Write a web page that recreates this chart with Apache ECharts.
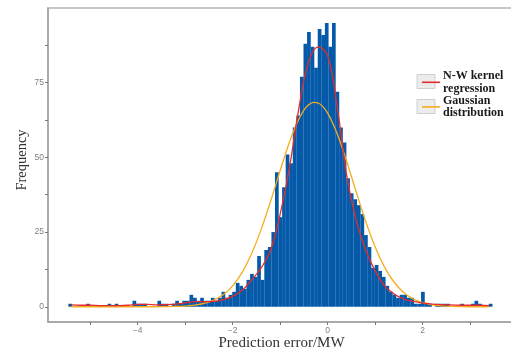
<!DOCTYPE html>
<html>
<head>
<meta charset="utf-8">
<script src="https://cdn.jsdelivr.net/npm/echarts@6/dist/echarts.min.js"></script>
<style>html,body{margin:0;padding:0;background:#fff;}#c{width:511px;height:354px;}</style>
</head>
<body>
<div id="c"></div>
<script>
// Histogram bins
const binStart = -5.42;
const binWidth = 0.075;
const counts = [1,0,0,0,0,1,0,0,0,0,0,1,0,1,0,0,0,0,2,1,1,1,0,0,0,2,1,1,0,1,
  2,1,2,2,4,3,2,3,2,2,3,2,3,5,3,4,5,8,7,6,9,11,10,17,9,19,20,25,45,30,
  40,51,48,60,64,77,88,92,87,80,93,91,95,87,95,72,60,55,43,38,36,34,31,24,20,13,14,12,10,7,
  5,4,3,4,4,3,3,1,1,5,1,1,0,1,1,1,1,0,0,0,1,0,0,1,2,1,0,0,1];
// N-W kernel regression curve
const nwX = [-5.4,-5.2,-5.0,-4.8,-4.6,-4.4,-4.2,-4.0,-3.8,-3.6,-3.4,-3.2,-3.0,-2.8,-2.6,-2.4,-2.2,-2.0,-1.8,-1.6,-1.4,-1.2,-1.0,-0.8,-0.6,-0.4,-0.2,0.0,0.2,0.4,0.6,0.8,1.0,1.2,1.4,1.6,1.8,2.0,2.2,2.4,2.6,2.8,3.0,3.2,3.4];
const nwY = [0.6,0.5,0.5,0.4,0.4,0.4,0.5,0.8,0.8,0.6,0.7,0.9,1.3,1.7,1.7,1.8,2.4,3.5,5.5,9,13,19,31,47,67,82,87,84,67,44,29,19,12,7,4.3,2.6,1.8,1.3,0.9,0.7,0.6,0.5,0.5,0.5,0.4];
// Gaussian distribution curve
const gX = [-5.4,-4.0,-3.4,-3.2,-3.0,-2.8,-2.6,-2.4,-2.2,-2.0,-1.8,-1.6,-1.4,-1.2,-1.0,-0.9,-0.8,-0.7,-0.6,-0.5,-0.4,-0.3,-0.2,-0.1,0.0,0.1,0.2,0.3,0.4,0.6,0.8,1.0,1.2,1.4,1.6,1.8,2.0,2.2,2.4,2.6,2.8,3.0,3.4];
const gY = [0,0,0.04,0.1,0.23,0.52,1.1,2.2,4.0,7.0,11.5,17.8,25.9,35.4,45.6,50.6,55.3,59.5,63.0,65.8,67.6,68.4,68.2,67.0,64.8,61.7,57.9,53.5,48.7,38.5,28.6,20.0,13.2,8.2,4.8,2.6,1.35,0.65,0.3,0.13,0.05,0,0];
const xTicks = [-5,-4,-3,-2,-1,0,1,2,3];
const xLabels = [-4,-2,0,2];
const yTicks = [0,12.5,25,37.5,50,62.5,75,87.5];
const yLabels = [0,25,50,75];
const seriesNames = ['N-W kernel\nregression', 'Gaussian\ndistribution'];

const barData = counts.map((c, i) => [+(binStart + i * binWidth).toFixed(3), c]);
const nwData = nwX.map((x, i) => [x, nwY[i]]);
const gData = gX.map((x, i) => [x, gY[i]]);

const chart = echarts.init(document.getElementById('c'), null, {renderer: 'canvas'});
const gray = '#a0a0a0';
const lab = {color: '#808080', fontSize: 8.5, fontFamily: 'Liberation Sans'};
chart.setOption({
  animation: false,
  backgroundColor: '#fff',
  grid: {left: 48, right: -4, top: 8, bottom: 32, outerBoundsMode: 'none', show: true, borderColor: '#b5b5b5', borderWidth: 1.5, backgroundColor: 'transparent'},
  xAxis: {
    type: 'value', min: -5.888, max: 3.944,
    name: 'Prediction error/MW', nameLocation: 'middle', nameGap: 14, nameMoveOverlap: false,
    nameTextStyle: {fontFamily: 'Liberation Serif', fontSize: 15, color: '#333'},
    axisLine: {show: true, onZero: false, lineStyle: {color: gray, width: 1.5}},
    axisTick: {show: true, customValues: xTicks, length: 3, lineStyle: {color: '#777'}},
    axisLabel: Object.assign({customValues: xLabels, margin: 4, formatter: v => (v < 0 ? '\u2212' : '') + Math.abs(v)}, lab),
    splitLine: {show: false}
  },
  yAxis: {
    type: 'value', min: -5.1, max: 100,
    name: 'Frequency', nameLocation: 'middle', nameGap: 18, nameMoveOverlap: false,
    nameTextStyle: {fontFamily: 'Liberation Serif', fontSize: 14.5, color: '#333', padding: [0, 0, 0, 10]},
    axisLine: {show: true, onZero: false, lineStyle: {color: gray, width: 1.5}},
    axisTick: {show: true, customValues: yTicks, length: 3, lineStyle: {color: '#777'}},
    axisLabel: Object.assign({customValues: yLabels, margin: 4}, lab),
    splitLine: {show: false}
  },
  legend: {
    orient: 'vertical', left: 417, top: 65, itemGap: 0,
    itemWidth: 18, itemHeight: 1.6, icon: 'rect',
    data: seriesNames,
    textStyle: {fontFamily: 'Liberation Serif', fontWeight: 'bold', fontSize: 12, color: '#1a1a1a', lineHeight: 12.3, padding: [0, 0, 0, -2]}
  },
  graphic: [
    {type: 'rect', shape: {x: 417, y: 74.5, width: 18, height: 14}, style: {fill: '#ececec', stroke: '#cfcfcf', lineWidth: 1}, z: 0},
    {type: 'rect', shape: {x: 417, y: 99.5, width: 18, height: 14}, style: {fill: '#ececec', stroke: '#cfcfcf', lineWidth: 1}, z: 0}
  ],
  series: [
    {type: 'bar', name: 'hist', data: barData, barWidth: 3.7, itemStyle: {color: '#0559a9'}, z: 2},
    {type: 'line', name: seriesNames[1], data: gData, smooth: 0.3, symbol: 'none', lineStyle: {color: '#f5ad1f', width: 1.3}, itemStyle: {color: '#f5ad1f'}, z: 3},
    {type: 'line', name: seriesNames[0], data: nwData, smooth: 0.4, symbol: 'none', lineStyle: {color: '#e52b2b', width: 1.3}, itemStyle: {color: '#e52b2b'}, z: 4}
  ]
});
</script>
</body>
</html>
